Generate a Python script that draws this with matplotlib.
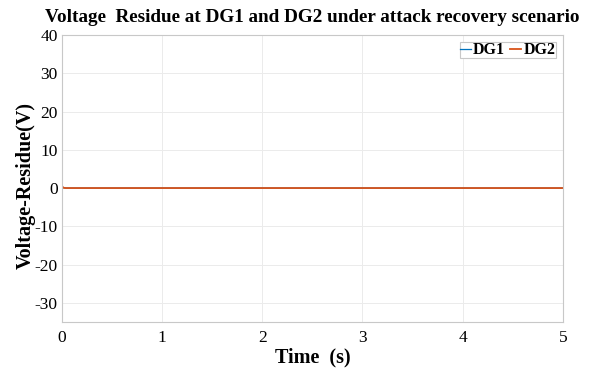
import matplotlib
matplotlib.use("Agg")
import matplotlib.pyplot as plt

t = [0.0, 0.005, 0.01, 0.02, 0.04, 5.0]
dg1 = [0.5, 0.3, 0.15, 0.05, 0.0, 0.0]
dg2 = [0.6, 0.35, 0.15, 0.05, 0.0, 0.0]
xticks = [0, 1, 2, 3, 4, 5]
yticks = [-30, -20, -10, 0, 10, 20, 30, 40]

plt.rcParams['font.family'] = ['Liberation Serif', 'DejaVu Serif']
plt.rcParams['axes.unicode_minus'] = False

fig = plt.figure(figsize=(5.9, 3.68), dpi=100)
ax = fig.add_axes([0.105, 0.125, 0.849, 0.78])
ax.plot(t, dg1, color='#0072BD', lw=0.9, label='DG1')
ax.plot(t, dg2, color='#D95319', lw=1.3, label='DG2')
ax.set_xlim(0, 5)
ax.set_ylim(-35, 40)
ax.set_xticks(xticks)
ax.set_yticks(yticks)
ax.tick_params(axis='y', length=0, labelsize=12.5, pad=3)
ax.tick_params(axis='x', length=0, labelsize=12.5, pad=6)
ax.grid(True, color='#ebebeb', lw=0.7)
for s in ax.spines.values():
    s.set_color('#c8c8c8')
    s.set_linewidth(0.8)
ax.set_title('Voltage  Residue at DG1 and DG2 under attack recovery scenario',
             fontsize=13.8, fontweight='bold', pad=9)
ax.set_xlabel('Time  (s)', fontsize=14.5, fontweight='bold', labelpad=1)
ax.set_ylabel('Voltage-Residue(V)', fontsize=14.5, fontweight='bold', labelpad=0)
ax.yaxis.set_label_coords(-0.052, 0.477)
leg = ax.legend(loc='upper right', ncol=2, prop={'weight': 'bold', 'size': 11.5},
                handlelength=0.7, handletextpad=0.15, columnspacing=0.3,
                borderpad=0.0, borderaxespad=0.45, fancybox=False, framealpha=1)
leg.get_frame().set_edgecolor('#c8c8c8')
leg.get_frame().set_linewidth(0.8)
fig.savefig('out.png', dpi=100)
